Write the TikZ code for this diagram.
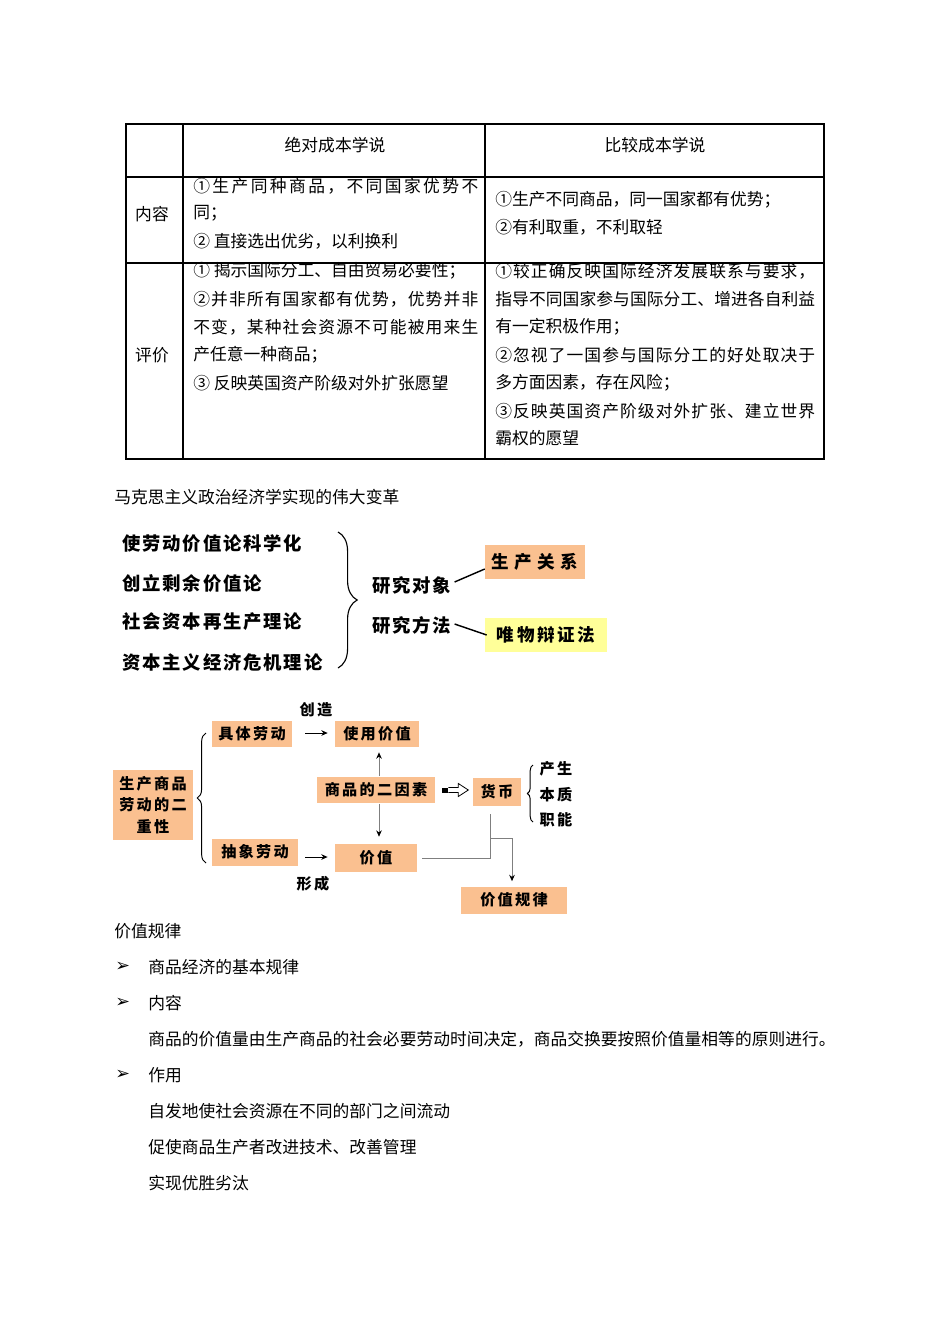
\documentclass[tikz,border=0pt]{standalone}
\usepackage{fontspec}
\setmainfont{Noto Sans CJK SC}
\newfontfamily\dejavu{DejaVu Sans}
\newfontfamily\dfont{Noto Sans CJK SC}[LetterSpace=15]
\newfontfamily\dfontn{Noto Sans CJK SC}[LetterSpace=10]
\newfontfamily\dfontw{Noto Sans CJK SC}[LetterSpace=30]
\usetikzlibrary{arrows.meta,decorations.pathreplacing,calc}
\definecolor{boxorange}{HTML}{FAC090}
\definecolor{boxyellow}{HTML}{FFFF99}
\definecolor{linegray}{HTML}{7F7F7F}
\def\jlA#1{\ifx\relax#1\else\hfil#1\expandafter\jlA\fi}
\def\jlB#1{#1\jlA}
\newcommand\jl[2]{\makebox[#1][s]{\jlB#2\relax}}
\begin{document}
\begin{tikzpicture}[x=0.6264pt,y=-0.6264pt,
  tbl/.style={line width=0.7pt,draw=black},
  tl/.style={anchor=west,inner sep=0pt,font=\fontsize{10.5}{12}\selectfont},
  tc/.style={inner sep=0pt,font=\fontsize{10.5}{12}\selectfont},
  big/.style={anchor=west,inner sep=0pt,font=\dfontn\fontsize{11.5}{13}\selectfont\bfseries},
  lab/.style={inner sep=0pt,font=\dfont\fontsize{9.5}{11}\selectfont\bfseries},
  obox/.style={fill=boxorange,inner sep=0pt,font=\dfont\fontsize{9.5}{11}\selectfont\bfseries},
  bul/.style={anchor=west,inner sep=0pt,font=\dejavu\fontsize{11}{12}\selectfont},
  conn/.style={draw=linegray,line width=0.6pt},
  arr/.style={-{Stealth[length=4pt,width=3.5pt,color=black]},line width=0.6pt}
]
\useasboundingbox (0,0) rectangle (950,1344);
\fill[white] (0,0) rectangle (950,1344);

% ---------- table ----------
\draw[tbl] (126,124) rectangle (824,459);
\draw[tbl] (183,124) -- (183,459);
\draw[tbl] (485,124) -- (485,459);
\draw[tbl] (126,177) -- (824,177);
\draw[tbl] (126,263) -- (824,263);

\node[tc] (h1) at (335,145) {绝对成本学说};
\node[tc] (h2) at (655,145) {比较成本学说};
\node[tc] (r1) at (152,214) {内容};
\node[tc] (r2) at (152,355) {评价};

\node[tl] (c21) at (193,186) {\jl{178.5pt}{①生产同种商品，不同国家优势不}};
\node[tl] (c22) at (193,213) {同；};
\node[tl] (c23) at (193,241) {② 直接选出优劣，以利换利};

\node[tl] (c31) at (495,200) {①生产不同商品，同一国家都有优势；};
\node[tl] (c32) at (495,227) {②有利取重，不利取轻};

\node[tl] (e21) at (193,271) {① 揭示国际分工、自由贸易必要性；};
\node[tl] (e22) at (193,299) {\jl{178.5pt}{②并非所有国家都有优势，优势并非}};
\node[tl] (e23) at (193,327) {\jl{178.5pt}{不变，某种社会资源不可能被用来生}};
\node[tl] (e24) at (193,355) {产任意一种商品；};
\node[tl] (e25) at (193,383) {③ 反映英国资产阶级对外扩张愿望};

\node[tl] (e31) at (495,271) {\jl{200.4pt}{①较正确反映国际经济发展联系与要求，}};
\node[tl] (e32) at (495,299) {\jl{200.4pt}{指导不同国家参与国际分工、增进各自利益}};
\node[tl] (e33) at (495,327) {有一定积极作用；};
\node[tl] (e34) at (495,355) {\jl{200.4pt}{②忽视了一国参与国际分工的好处取决于}};
\node[tl] (e35) at (495,383) {多方面因素，存在风险；};
\node[tl] (e36) at (495,411) {\jl{200.4pt}{③反映英国资产阶级对外扩张、建立世界}};
\node[tl] (e37) at (495,438) {霸权的愿望};

% ---------- title ----------
\node[tl] (t1) at (114,497) {马克思主义政治经济学实现的伟大变革};

% ---------- upper diagram ----------
\node[big] (a1) at (122,544) {使劳动价值论科学化};
\node[big] (a2) at (122,583) {创立剩余价值论};
\node[big] (a3) at (122,622) {社会资本再生产理论};
\node[big] (a4) at (122,662) {资本主义经济危机理论};
\draw[decorate,decoration={brace,amplitude=12pt},line width=0.7pt] (338,532) -- (338,668);

\node[big] (obj) at (372,585) {研究对象};
\node[big] (meth) at (372,625) {研究方法};
\node[fill=boxorange,inner sep=0pt,minimum width=62.6pt,minimum height=20.7pt,
      font=\dfontw\fontsize{11}{13}\selectfont\bfseries] (rel) at (535,562) {生产关系};
\node[fill=boxyellow,inner sep=0pt,minimum width=76.4pt,minimum height=21.3pt,
      font=\dfont\fontsize{11}{13}\selectfont\bfseries] (dial) at (546,635) {唯物辩证法};
\draw[line width=0.9pt] ($(obj.east)+(3,-3)$) -- ($(rel.west)+(0,7)$);
\draw[line width=0.9pt] ($(meth.east)+(3,-1)$) -- ($(dial.west)+(2,0)$);

% ---------- lower diagram ----------
\node[obox,minimum width=50.1pt,minimum height=16.3pt] (jt) at (252,734) {具体劳动};
\node[obox,minimum width=52.6pt,minimum height=16.3pt] (syz) at (377,734) {使用价值};
\node[obox,minimum width=73.9pt,minimum height=16.9pt] (ey) at (376,790) {商品的二因素};
\node[obox,minimum width=30.1pt,minimum height=17.5pt] (hb) at (497,792) {货币};
\node[obox,minimum width=50.1pt,minimum height=43.8pt,align=center] (ec) at (153,805)
      {生产商品\\[2.5pt]劳动的二\\[2.5pt]重性};
\node[obox,minimum width=53.9pt,minimum height=16.9pt] (cx) at (255,852) {抽象劳动};
\node[obox,minimum width=51.4pt,minimum height=17.5pt] (jz) at (376,858) {价值};
\node[obox,minimum width=65.8pt,minimum height=16.9pt] (gl) at (514,900) {价值规律};

\node[lab] (cz) at (316,710) {创造};
\node[lab] (xc) at (313,884) {形成};
\node[lab] (cs) at (556,769) {产生};
\node[lab] (bz) at (556,795) {本质};
\node[lab] (zn) at (556,820) {职能};

% braces
\draw[decorate,decoration={brace,amplitude=5.5pt},line width=0.6pt] (206,863) -- (206,733);
\draw[decorate,decoration={brace,amplitude=3.5pt},line width=0.6pt] (533,822) -- (533,765);

% arrows
\draw[arr] ($(jt.east)+(13,-1)$) -- ($(syz.west)+(-7,-1)$);
\draw[arr] ($(cx.east |- jz.west)+(7,-1)$) -- ($(jz.west)+(-7,-1)$);
\draw[arr,draw=linegray] ($(ey.north)+(3,0)$) -- ($(syz.south)+(2,5)$);
\draw[arr,draw=linegray] ($(ey.south)+(3,0)$) -- ($(jz.north)+(3,-7)$);

% hollow arrow ey -> hb
\coordinate (ha) at ($(ey.east)+(7,0)$);
\fill[black] ($(ha)+(0,-2.5)$) rectangle ($(ha)+(6,2.5)$);
\draw[line width=0.5pt] ($(ha)+(6,-2.5)$) -- ($(ha)+(16,-2.5)$) -- ($(ha)+(16,-6.5)$)
   -- ($(ha)+(26,0)$) -- ($(ha)+(16,6.5)$) -- ($(ha)+(16,2.5)$) -- ($(ha)+(6,2.5)$);

% value law connectors
\coordinate (vtop) at ($(hb.south)+(-7,8)$);
\coordinate (vmid) at (vtop |- jz.east);
\coordinate (vjn) at ($(vtop)+(0,24)$);
\draw[conn] ($(jz.east)+(5,0)$) -- (vmid) -- (vtop);
\draw[conn,arr] (vjn) -| ($(gl.north)+(-2,-5)$);

% ---------- bottom text ----------
\node[tl] (b0) at (114,931) {价值规律};
\node[bul] (u1) at (115,967) {➢};
\node[tl] (b1) at (148,967) {商品经济的基本规律};
\node[bul] (u2) at (115,1003) {➢};
\node[tl] (b2) at (148,1003) {内容};
\node[tl] (b3) at (148,1039) {商品的价值量由生产商品的社会必要劳动时间决定，商品交换要按照价值量相等的原则进行。};
\node[bul] (u3) at (115,1075) {➢};
\node[tl] (b4) at (148,1075) {作用};
\node[tl] (b5) at (148,1111) {自发地使社会资源在不同的部门之间流动};
\node[tl] (b6) at (148,1147) {促使商品生产者改进技术、改善管理};
\node[tl] (b7) at (148,1183) {实现优胜劣汰};
\end{tikzpicture}
\end{document}
